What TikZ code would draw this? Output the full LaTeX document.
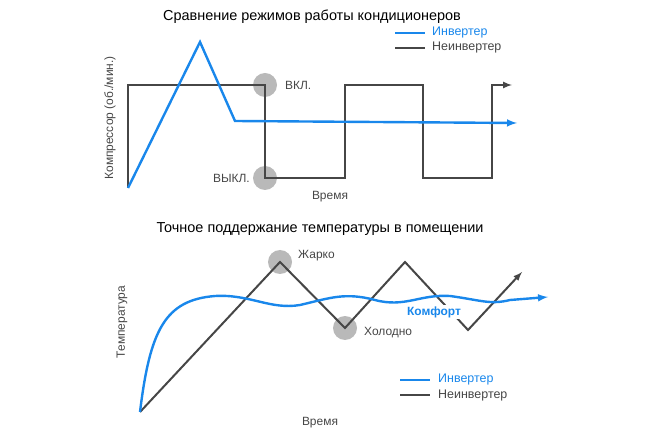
\documentclass[tikz,border=0pt]{standalone}
\usepackage{fontspec}
\setmainfont{Liberation Sans}
\definecolor{inv}{RGB}{25,135,235}
\definecolor{ninv}{RGB}{70,70,70}
\definecolor{spot}{RGB}{185,185,185}
\begin{document}
\begin{tikzpicture}[x=1bp,y=-1bp,
  invline/.style={inv,line width=2.4bp},
  ninvline/.style={ninv,line width=2bp},
  spotc/.style={circle,fill=spot,minimum size=24bp,inner sep=0pt},
  lbl/.style={font=\fontsize{12}{13}\selectfont,inner sep=1bp,text=ninv},
  leg/.style={font=\fontsize{12.5}{14}\selectfont,inner sep=1bp,text=ninv},
  ttl/.style={font=\fontsize{14.5}{16}\selectfont,text=black}]
\useasboundingbox (0,0) rectangle (660,436);
% top
\node[ttl] (t1) at (312,17) {Сравнение режимов работы кондиционеров};
\node[spotc] (on) at (265,85) {};
\node[spotc] (off) at (265,178) {};
\node[lbl,anchor=west] (onl) at (284,85) {ВКЛ.};
\node[lbl,anchor=east] (offl) at (251,178) {ВЫКЛ.};
\draw[ninvline,-latex] (128,188) -- (128,85) -- (265,85) -- (265,178) -- (345,178) -- (345,85) -- (423,85) -- (423,178) -- (492,178) -- (492,85) -- (512,85);
\draw[invline,-latex] (128,188) -- (200,42) -- (235,121) -- (517,123);
\node[lbl,rotate=90] (yl1) at (110,118) {Компрессор (об./мин.)};
\node[lbl] (x1) at (330,197) {Время};
\coordinate (la1) at (395,33); \coordinate (lb1) at (425,33);
\draw[invline] (la1) -- (lb1);
\node[leg,anchor=west,text=inv] (li1) at (431,33) {Инвертер};
\coordinate (la2) at (395,48); \coordinate (lb2) at (425,48);
\draw[ninvline] (la2) -- (lb2);
\node[leg,anchor=west] (ln1) at (431,48) {Неинвертер};
% bottom
\node[ttl] (t2) at (320,229) {Точное поддержание температуры в помещении};
\node[spotc] (hot) at (280,262) {};
\node[spotc] (cold) at (345,328) {};
\node[lbl,anchor=west] (hotl) at (297,256) {Жарко};
\node[lbl,anchor=west] (coldl) at (363,333) {Холодно};
\draw[ninvline,-latex] (140,412) -- (280,262) -- (345,328) -- (405,262) -- (468,330) -- (522,272);
\draw[invline,-latex] (140,412) .. controls (150,330) and (165,300) .. (215,296)
  .. controls (250,294) and (270,310) .. (300,305)
  .. controls (330,298) and (345,292) .. (375,300)
  .. controls (405,308) and (420,294) .. (450,296)
  .. controls (480,300) and (490,305) .. (510,300) -- (548,297);
\node[lbl,text=inv,fill=white,font=\fontsize{12}{13}\selectfont\bfseries] (comf) at (434,312) {Комфорт};
\node[lbl,rotate=90] (yl2) at (122,322) {Температура};
\node[lbl] (x2) at (320,423) {Время};
\coordinate (lc1) at (400,380); \coordinate (ld1) at (430,380);
\draw[invline] (lc1) -- (ld1);
\node[leg,anchor=west,text=inv] (li2) at (437,380) {Инвертер};
\coordinate (lc2) at (400,395); \coordinate (ld2) at (430,395);
\draw[ninvline] (lc2) -- (ld2);
\node[leg,anchor=west] (ln2) at (437,396) {Неинвертер};
\end{tikzpicture}
\end{document}
